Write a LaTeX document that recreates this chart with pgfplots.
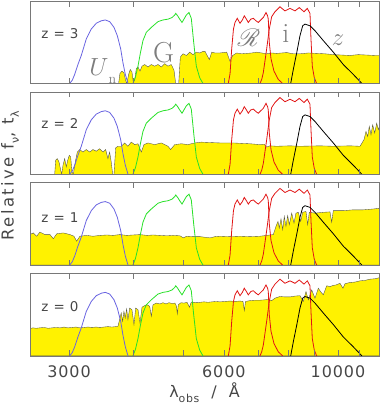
\documentclass[border=0pt]{standalone}
\usepackage{fontspec}
\setmainfont{DejaVu Sans}
\newfontfamily\lmfont{Latin Modern Roman}
\newfontfamily\hfont[LetterSpace=6]{DejaVu Sans}
\newfontfamily\yfont[LetterSpace=15]{DejaVu Sans}
\usepackage{mathrsfs}
\usepackage{pgfplots}
\usepackage{pgfplotstable}
\pgfplotsset{compat=1.18}

\definecolor{unblue}{RGB}{105,100,225}
\definecolor{ggreen}{RGB}{40,225,40}
\definecolor{rred}{RGB}{225,20,20}
\definecolor{framec}{RGB}{120,120,120}
\definecolor{txt}{RGB}{70,70,70}
\definecolor{lbl}{RGB}{125,125,125}

% ---------- filter curves (lambda in Angstrom, transmission) ----------
\pgfplotstableread{
x y
3009 0
3045 0.04
3078 0.11
3123 0.23
3170 0.34
3242 0.54
3315 0.66
3390 0.73
3467 0.76
3530 0.77
3600 0.75
3670 0.68
3725 0.58
3782 0.42
3821 0.25
3861 0.11
3908 0
}\unf
\pgfplotstableread{
x y
3995 0
4040 0.08
4086 0.21
4130 0.37
4178 0.52
4241 0.62
4337 0.68
4469 0.75
4570 0.77
4673 0.78
4760 0.80
4816 0.83
4838 0.85
4880 0.82
4925 0.78
4976 0.74
5030 0.79
5073 0.83
5134 0.86
5187 0.79
5243 0.50
5305 0.21
5386 0.07
5466 0
}\gf
\pgfplotstableread{
x y
6122 0
6170 0.12
6216 0.42
6265 0.66
6308 0.74
6373 0.79
6451 0.73
6520 0.77
6576 0.82
6640 0.78
6695 0.74
6770 0.78
6847 0.79
6930 0.76
7002 0.74
7080 0.77
7160 0.80
7247 0.86
7300 0.82
7322 0.78
7355 0.50
7411 0.30
7511 0.15
7657 0.05
7809 0
}\rf
\pgfplotstableread{
x y
7055 0
7110 0.05
7160 0.13
7270 0.42
7355 0.66
7435 0.81
7545 0.87
7716 0.93
7890 0.88
8069 0.91
8251 0.88
8411 0.92
8591 0.87
8719 0.91
8824 0.85
8864 0.54
8916 0.21
8996 0.07
9093 0
}\ifilt
\pgfplotstableread{
x y
8094 0
8189 0.17
8320 0.38
8438 0.58
8541 0.70
8629 0.72
8824 0.70
9024 0.64
9366 0.52
9795 0.38
10243 0.23
10712 0.11
11133 0
}\zf

% ---------- spectra ----------
\pgfplotstableread{
x y
2519 0
3747 0
3769 0.12
3803 0.15
3837 0.13
3866 0.04
3889 0
3919 0.11
3947 0.17
3978 0.14
4001 0.02
4026 0.04
4055 0.18
4086 0.20
4123 0.15
4160 0.21
4210 0.23
4274 0.20
4337 0.23
4403 0.21
4469 0.23
4536 0.20
4605 0.24
4673 0.21
4743 0.23
4801 0.16
4837 0
4903 0
4938 0.32
4998 0.36
5073 0.34
5150 0.38
5227 0.35
5305 0.38
5386 0.37
5466 0.39
5515 0.39
5623 0.29
5684 0.38
5768 0.37
5898 0.37
6078 0.38
6168 0.27
6244 0.34
6357 0.37
6501 0.36
6648 0.365
6798 0.37
6952 0.38
7109 0.37
7270 0.36
7435 0.37
7603 0.365
7775 0.37
7951 0.375
8189 0.36
8438 0.36
8758 0.37
9093 0.365
9437 0.36
9795 0.35
10171 0.345
10555 0.34
10955 0.35
11375 0.345
11805 0.34
12072 0.34
}\specA
\pgfplotstableread{
x y
2519 0
2814 0
2827 0.17
2847 0.19
2869 0.15
2891 0.05
2904 0
2921 0.11
2943 0.19
2964 0.09
2983 0.17
3004 0.23
3023 0.21
3041 0.03
3059 0
3086 0.15
3114 0.27
3147 0.30
3194 0.27
3242 0.30
3292 0.27
3340 0.30
3390 0.28
3442 0.31
3494 0.27
3536 0.30
3572 0.19
3599 0.27
3625 0.15
3648 0
3670 0
3698 0.32
3736 0.34
3791 0.34
3849 0.38
3907 0.34
3965 0.39
4026 0.36
4086 0.37
4147 0.27
4197 0.36
4274 0.38
4403 0.36
4536 0.38
4673 0.34
4730 0.30
4816 0.36
4960 0.37
5111 0.36
5267 0.38
5425 0.39
5640 0.385
5898 0.38
6252 0.38
6746 0.37
7055 0.36
7183 0.365
7270 0.33
7378 0.345
7603 0.34
8069 0.345
8438 0.34
9228 0.345
9795 0.34
10555 0.345
11038 0.34
11238 0.42
11339 0.52
11426 0.46
11507 0.58
11595 0.48
11684 0.60
11789 0.50
11896 0.62
11981 0.54
12072 0.60
}\specB
\pgfplotstableread{
x y
2519 0.37
2557 0.39
2596 0.35
2634 0.40
2694 0.37
2755 0.37
2797 0.32
2840 0.38
2925 0.39
3013 0.37
3068 0.35
3105 0.29
3151 0.35
3248 0.36
3340 0.35
3447 0.36
3557 0.365
3653 0.36
3769 0.37
3889 0.36
3995 0.365
4123 0.37
4254 0.36
4370 0.365
4509 0.36
4653 0.355
4779 0.36
4931 0.355
5005 0.33
5082 0.35
5227 0.345
5393 0.345
5640 0.33
5768 0.345
5898 0.35
6168 0.345
6451 0.35
6746 0.345
7055 0.35
7270 0.36
7488 0.37
7579 0.47
7648 0.53
7692 0.45
7751 0.56
7810 0.43
7866 0.59
7926 0.47
7987 0.60
8044 0.49
8131 0.63
8215 0.51
8288 0.63
8374 0.64
8465 0.53
8541 0.64
8668 0.65
8734 0.49
8797 0.64
9024 0.63
9366 0.64
9651 0.645
9725 0.52
9795 0.66
10243 0.66
10712 0.67
11203 0.67
11716 0.68
12072 0.69
}\specC
\pgfplotstableread{
x y
2519 0.33
2553 0.34
2588 0.335
2634 0.34
2682 0.345
2731 0.335
2780 0.34
2831 0.345
2882 0.34
2934 0.35
2987 0.34
3041 0.345
3096 0.35
3151 0.34
3209 0.345
3267 0.35
3326 0.345
3385 0.35
3447 0.345
3509 0.35
3572 0.355
3637 0.35
3703 0.355
3736 0.36
3764 0.44
3791 0.52
3815 0.42
3837 0.54
3859 0.46
3884 0.57
3907 0.44
3937 0.58
3978 0.56
4013 0.38
4044 0.58
4086 0.56
4123 0.40
4160 0.59
4210 0.61
4260 0.62
4306 0.60
4337 0.48
4370 0.62
4435 0.64
4509 0.63
4570 0.645
4632 0.63
4694 0.645
4758 0.635
4822 0.64
4855 0.60
4872 0.51
4894 0.62
4953 0.645
5021 0.64
5089 0.65
5146 0.59
5180 0.645
5251 0.65
5322 0.645
5393 0.65
5491 0.655
5590 0.65
5691 0.655
5794 0.66
5898 0.655
6032 0.66
6168 0.665
6308 0.66
6451 0.665
6539 0.66
6577 0.55
6612 0.66
6746 0.67
6899 0.675
7055 0.675
7215 0.68
7313 0.685
7435 0.67
7545 0.70
7716 0.72
7890 0.715
8069 0.715
8251 0.725
8438 0.73
8564 0.66
8668 0.78
8758 0.68
8892 0.80
9024 0.70
9159 0.82
9249 0.78
9366 0.74
9510 0.85
9651 0.84
9795 0.855
9914 0.86
10093 0.88
10230 0.82
10321 0.875
10555 0.89
10794 0.895
11038 0.91
11288 0.915
11543 0.93
11805 0.935
12072 0.95
}\specD

\pgfplotsset{
  every axis/.append style={
    xmode=log, log basis x=10, scale only axis,
    width=349bp, height=82.5bp,
    xmin=2520, xmax=12020, ymin=0, ymax=1,
    ytick=\empty,
    xtick={3000,4000,5000,6000,7000,8000,9000,10000,11000},
    xticklabels={}, xminorticks=false,
    xtick pos=both, tick align=inside, major tick length=5.5bp,
    axis on top,
    axis line style={framec, line width=0.6bp},
    every tick/.style={framec, line width=0.6bp},
  },
}
\tikzset{
  myspec/.style={fill=yellow, draw=black!70, line width=0.35bp},
  myfilt/.style={line width=0.8bp},
}
\newcommand{\filters}{%
  \addplot[myfilt, unblue] table {\unf};
  \addplot[myfilt, ggreen] table {\gf};
  \addplot[myfilt, rred] table {\rf};
  \addplot[myfilt, rred] table {\ifilt};
  \addplot[myfilt, black] table {\zf};
}
\newcommand{\zfont}{\hfont\fontsize{13.5}{14}\selectfont}
\newcommand{\sub}[1]{\raisebox{-0.32em}{\fontsize{11}{11}\selectfont #1}}

\begin{document}
\begin{tikzpicture}
\useasboundingbox (0,0) rectangle (383bp,-410bp);

\begin{axis}[at={(30bp,-1bp)}, anchor=north west]
  \addplot[myspec] table {\specA} \closedcycle;
  \filters
  \node[anchor=west, font=\zfont, text=txt] at (axis cs:2611,0.61) {z = 3};
  \node[text=lbl, font=\fontsize{38}{38}\selectfont] at (axis cs:3432,0.20) {$U$};
  \node[text=lbl, font=\lmfont\fontsize{14}{14}\selectfont] at (axis cs:3646,0.04) {n};
  \node[text=lbl, font=\lmfont\fontsize{29}{29}\selectfont] at (axis cs:4585,0.374) {G};
  \node[text=lbl, font=\fontsize{37}{37}\selectfont] at (axis cs:6716,0.55) {$\mathscr{R}$};
  \node[text=lbl, font=\lmfont\fontsize{28}{28}\selectfont] at (axis cs:7926,0.60) {i};
  \node[text=lbl, font=\fontsize{42}{42}\selectfont] at (axis cs:10002,0.52) {$z$};
\end{axis}

\begin{axis}[at={(30bp,-91.8bp)}, anchor=north west]
  \addplot[myspec] table {\specB} \closedcycle;
  \filters
  \node[anchor=west, font=\zfont, text=txt] at (axis cs:2611,0.62) {z = 2};
\end{axis}

\begin{axis}[at={(30bp,-182.6bp)}, anchor=north west]
  \addplot[myspec] table {\specC} \closedcycle;
  \filters
  \node[anchor=west, font=\zfont, text=txt] at (axis cs:2611,0.57) {z = 1};
\end{axis}

\begin{axis}[at={(30bp,-273.4bp)}, anchor=north west,
    xticklabels={3000,,,6000,,,,10000,},
    /pgf/number format/assume math mode=true,
    xticklabel style={font=\hfont\fontsize{16}{16}\selectfont, text=txt, yshift=-6bp},
    xlabel={λ\sub{obs}\ \ /\ \ Å},
    xlabel style={font=\hfont\fontsize{16}{16}\selectfont, text=txt, yshift=2bp}]
  \addplot[myspec] table {\specD} \closedcycle;
  \filters
  \node[anchor=west, font=\zfont, text=txt] at (axis cs:2611,0.60) {z = 0};
\end{axis}

\node[rotate=90, font=\yfont\fontsize{16.5}{18}\selectfont, text=txt] at (10bp,-176bp)
  {Relative f\sub{ν}, t\sub{λ}};
\end{tikzpicture}
\end{document}
